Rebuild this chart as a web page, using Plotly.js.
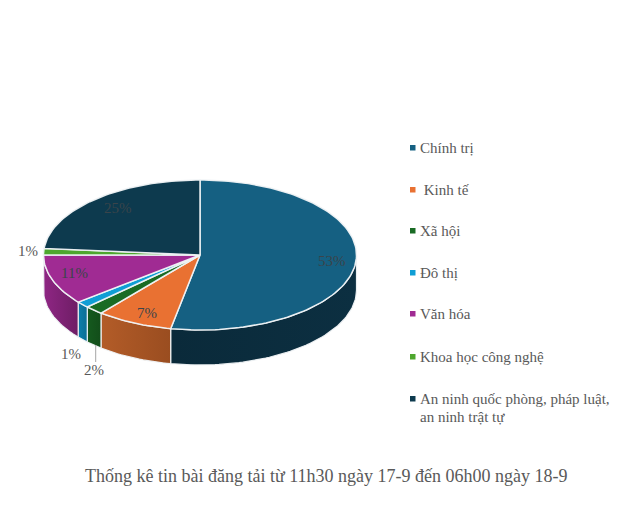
<!DOCTYPE html>
<html><head><meta charset="utf-8">
<script src="https://cdn.plot.ly/plotly-3.0.1.min.js"></script>
<style>html,body{margin:0;padding:0;background:#fff}#c{width:618px;height:524px}</style>
</head><body><div id="c"></div>
<script>
const categories = ["Chính trị"," Kinh tế","Xã hội","Đô thị","Văn hóa","Khoa học công nghệ","An ninh quốc phòng, pháp luật,\nan ninh trật tự"];
const values = [53, 7.9, 1.9, 1.4, 10.8, 1.4, 23.6];
const shownLabels = ["53%","7%","2%","1%","11%","1%","25%"];
const topColors = ["#156082","#E97132","#196B24","#0F9ED5","#A02B93","#4EA72E","#0D3A4E"];
const wallLeft = ["#0A2A3A","#B35C28","#155A1E","#0C7FAB","#8F2684","#3E8525","#0A2A3A"];
const wallRight = ["#0C2F41","#9A4D20","#124D1A","#0B6E94","#6E1D65","#3E8525","#0A2A3A"];
const labelPx = [[332,261],[147,313],[94,370],[71,354],[74,273],[28,251],[118,208]];
const labelOnPie = [true,true,false,false,true,false,true];
const legendY = [148,190,231,273,314,357,399];

const W=618,H=524,CX=200,CY=255,RX=156.5,RY=75,DEPTH=35/75;
const total = values.reduce((a,b)=>a+b,0);
function pt(deg,dy){const t=deg*Math.PI/180;return [Math.sin(t),Math.cos(t)-(dy||0)];}
function arc(a,b,dy){const n=Math.max(2,Math.ceil(Math.abs(b-a)/1.5));const r=[];for(let i=0;i<=n;i++)r.push(pt(a+(b-a)*i/n,dy));return r;}

const walls=[],tops=[];
let acc=0;
values.forEach((v,i)=>{
  const a=acc/total*360,b=(acc+v)/total*360;acc+=v;
  tops.push((()=>{const p=[[0,0]].concat(arc(a,b)).concat([[0,0]]);return {
    type:'scatter',mode:'lines',name:categories[i].trim(),x:p.map(q=>q[0]),y:p.map(q=>q[1]),
    fill:'toself',fillcolor:topColors[i],line:{color:'rgba(240,243,245,0.95)',width:1.5},hoverinfo:'skip',showlegend:false};})());
  const s=Math.max(a,90),e=Math.min(b,270);
  if(e>s){
    const p=arc(s,e).concat(arc(e,s,DEPTH));p.push(p[0]);
    walls.push({type:'scatter',mode:'lines',x:p.map(q=>q[0]),y:p.map(q=>q[1]),fill:'toself',
      fillgradient:{type:'horizontal',colorscale:[[0,wallLeft[i]],[1,wallRight[i]]]},
      line:{color:'rgba(240,243,245,0.95)',width:1.2},hoverinfo:'skip',showlegend:false});
  }
});

const ann=[],shapes=[];
const px=(x,y)=>({xref:'paper',yref:'paper',x:x/W,y:1-y/H,showarrow:false});
shownLabels.forEach((t,i)=>{
  ann.push(Object.assign(px(labelPx[i][0],labelPx[i][1]),{text:t,xanchor:'center',yanchor:'middle',
    font:{family:'"Liberation Serif",serif',size:15,color:labelOnPie[i]?'#3A444A':'#595959'}}));
});
categories.forEach((c,i)=>{
  shapes.push({type:'rect',xref:'paper',yref:'paper',x0:410/W,x1:415.5/W,y0:1-(legendY[i]+2.5)/H,y1:1-(legendY[i]-3)/H,
    fillcolor:topColors[i],line:{width:0}});
  c.split('\n').forEach((ln,k)=>{
    ann.push(Object.assign(px(418,legendY[i]+k*17.5),{text:ln.replace(/^ /,'\u00A0'),xanchor:'left',yanchor:'middle',
      font:{family:'"Liberation Serif",serif',size:15,color:'#595959'}}));
  });
});
shapes.push({type:'line',xref:'paper',yref:'paper',x0:95.7/W,x1:95.7/W,y0:1-345/H,y1:1-362/H,line:{color:'#A6A6A6',width:1}});
ann.push(Object.assign(px(326.5,476),{text:"Thống kê tin bài đăng tải từ 11h30 ngày 17-9 đến 06h00 ngày 18-9",xanchor:'center',yanchor:'middle',
  font:{family:'"Liberation Serif",serif',size:18,color:'#595959'}}));

Plotly.newPlot('c',walls.concat(tops),{
  width:W,height:H,margin:{l:0,r:0,t:0,b:0},paper_bgcolor:'#fff',plot_bgcolor:'#fff',showlegend:false,
  xaxis:{visible:false,range:[-CX/RX,(W-CX)/RX],fixedrange:true},
  yaxis:{visible:false,range:[(CY-H)/RY,CY/RY],fixedrange:true},
  annotations:ann,shapes:shapes
},{displayModeBar:false,staticPlot:true});
</script></body></html>
